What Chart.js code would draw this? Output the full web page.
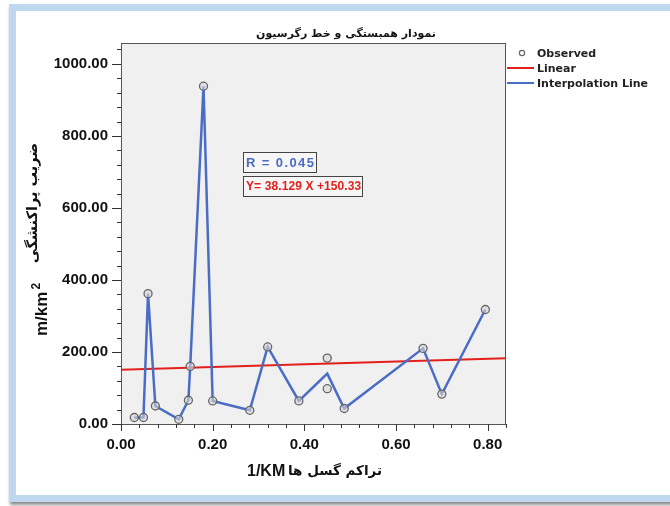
<!DOCTYPE html>
<html>
<head>
<meta charset="utf-8">
<script src="https://cdn.jsdelivr.net/npm/chart.js@4"></script>
<style>
body { margin: 0; background: #fff; width: 670px; height: 506px; overflow: hidden; position: relative; }
#frame { position: absolute; left: 9px; top: 4px; width: 700px; height: 498px; box-sizing: border-box;
  border: 7px solid #bfd8ef; border-right: none; box-shadow: 1px 3px 3px rgba(0,0,0,.45); }
#c { position: absolute; left: 0; top: 0; }
</style>
</head>
<body>
<div id="frame"></div>
<canvas id="c" width="670" height="506"></canvas>
<script>
// نقاط مشاهده شده
const obsX = [0.029, 0.049, 0.059, 0.075, 0.126, 0.147, 0.151, 0.180, 0.200, 0.281, 0.320, 0.388, 0.450, 0.450, 0.487, 0.659, 0.700, 0.795];
const obsY = [18, 18, 362, 50, 13, 66, 160, 938, 64, 38, 214, 64, 183, 98, 43, 210, 83, 318];

// خط درون یابی (در x=0.45 میانگین دو نقطه)
const lineX = [0.029, 0.049, 0.059, 0.075, 0.126, 0.147, 0.151, 0.180, 0.200, 0.281, 0.320, 0.388, 0.450, 0.487, 0.659, 0.700, 0.795];
const lineY = [18, 18, 362, 50, 13, 66, 160, 938, 64, 38, 214, 64, 140, 43, 210, 83, 318];

// خط رگرسیون خطی
const linearX = [0, 0.84];
const linearY = [150.33, 182.36];

const legendLabels = ['Observed', 'Linear', 'Interpolation Line'];
const chartTitle = 'نمودار همبستگی و خط رگرسیون';
const yTitleFa = 'ضریب پراکنشگی';
const yTitleUnit = 'm/km';
const xTitleFa = 'تراکم گسل ها';
const xTitleUnit = '1/KM';
const annotR = 'R = 0.045';
const annotEq = 'Y= 38.129 X +150.33';

const BLUE = '#4a6cc4';
const RED = '#e3201c';
const FA = '"DejaVu Sans", sans-serif';
const AR = '"Liberation Sans", Arial, sans-serif';

const toPts = (xs, ys) => xs.map((x, i) => ({x: x, y: ys[i]}));

const decor = {
    id: 'decor',
    beforeDraw(chart) {
        const {ctx, chartArea: a} = chart;
        ctx.save();
        ctx.fillStyle = '#f0f0f0';
        ctx.fillRect(a.left, a.top, a.right - a.left, a.bottom - a.top);
        ctx.restore();
    },
    afterDraw(chart) {
        const {ctx, chartArea: a, scales} = chart;
        ctx.save();
        // frame
        ctx.strokeStyle = '#555';
        ctx.lineWidth = 1;
        ctx.strokeRect(a.left + 0.5, a.top + 0.5, a.right - a.left - 1, a.bottom - a.top);

        // tick marks
        ctx.strokeStyle = '#333';
        scales.y.ticks.forEach((t, i) => {
            const py = Math.round(scales.y.getPixelForTick(i)) + 0.5;
            const len = t.label ? 9 : 4;
            ctx.beginPath(); ctx.moveTo(a.left - len, py); ctx.lineTo(a.left, py); ctx.stroke();
        });
        scales.x.ticks.forEach((t, i) => {
            const px = Math.round(scales.x.getPixelForTick(i)) + 0.5;
            const len = t.label ? 7 : 4;
            ctx.beginPath(); ctx.moveTo(px, a.bottom); ctx.lineTo(px, a.bottom + len); ctx.stroke();
        });

        // title
        ctx.fillStyle = '#111';
        ctx.textAlign = 'center';
        ctx.textBaseline = 'middle';
        ctx.font = 'bold 11px ' + FA;
        ctx.fillText(chartTitle, 346, 34);

        // y title
        ctx.save();
        ctx.translate(33, 203);
        ctx.rotate(-Math.PI / 2);
        ctx.font = 'bold 14.5px ' + FA;
        ctx.fillText(yTitleFa, 0, 0);
        ctx.restore();
        ctx.save();
        ctx.translate(47, 336);
        ctx.rotate(-Math.PI / 2);
        ctx.textAlign = 'left';
        ctx.textBaseline = 'alphabetic';
        ctx.font = 'bold 17px ' + AR;
        ctx.fillText(yTitleUnit, 0, 0);
        const w = ctx.measureText(yTitleUnit).width;
        ctx.font = 'bold 12px ' + AR;
        ctx.fillText('2', w + 2, -7);
        ctx.restore();

        // x title
        ctx.textBaseline = 'middle';
        ctx.textAlign = 'left';
        ctx.font = 'bold 16px ' + AR;
        ctx.fillText(xTitleUnit, 247, 472);
        ctx.font = 'bold 13.5px ' + FA;
        ctx.fillText(xTitleFa, 288, 471);

        // annotations
        const ax = Math.round(scales.x.getPixelForValue(0.266));
        [[annotR, BLUE, 728, 'bold 13px ' + AR, '1.4px'], [annotEq, RED, 660, 'bold 12px ' + AR, '0.1px']].forEach(([txt, col, v, font, ls]) => {
            ctx.font = font;
            ctx.letterSpacing = ls;
            const py = Math.round(scales.y.getPixelForValue(v));
            const tw = Math.round(ctx.measureText(txt).width);
            ctx.fillStyle = '#f6f6f6';
            ctx.fillRect(ax, py - 10, tw + 4, 20);
            ctx.strokeStyle = '#444';
            ctx.strokeRect(ax + 0.5, py - 10 + 0.5, tw + 4, 20);
            ctx.fillStyle = col;
            ctx.fillText(txt, ax + 3, py + 1);
        });
        ctx.letterSpacing = '0px';

        // legend
        ctx.font = 'bold 11px ' + FA;
        ctx.fillStyle = '#222';
        ctx.fillText(legendLabels[0], 537, 54);
        ctx.fillText(legendLabels[1], 537, 69);
        ctx.fillText(legendLabels[2], 537, 84);
        ctx.beginPath();
        ctx.arc(522, 53, 2.6, 0, Math.PI * 2);
        ctx.strokeStyle = '#666';
        ctx.lineWidth = 1.2;
        ctx.stroke();
        ctx.lineWidth = 2;
        ctx.strokeStyle = RED;
        ctx.beginPath(); ctx.moveTo(507, 68); ctx.lineTo(534, 68); ctx.stroke();
        ctx.strokeStyle = BLUE;
        ctx.beginPath(); ctx.moveTo(507, 83); ctx.lineTo(534, 83); ctx.stroke();
        ctx.restore();
    }
};

new Chart(document.getElementById('c'), {
    type: 'scatter',
    data: {
        datasets: [
            {
                label: legendLabels[0],
                data: toPts(obsX, obsY),
                pointRadius: 4,
                pointBorderWidth: 1.3,
                pointBorderColor: '#666',
                pointBackgroundColor: 'rgba(215,215,215,0.6)',
                order: 0
            },
            {
                label: legendLabels[2],
                data: toPts(lineX, lineY),
                showLine: true,
                pointRadius: 0,
                borderColor: BLUE,
                borderWidth: 2.5,
                order: 1
            },
            {
                label: legendLabels[1],
                data: toPts(linearX, linearY),
                showLine: true,
                pointRadius: 0,
                borderColor: RED,
                borderWidth: 2,
                order: 2
            }
        ]
    },
    options: {
        responsive: false,
        animation: false,
        layout: { padding: { left: 0, right: 164, top: 43, bottom: 0 } },
        plugins: { legend: { display: false }, tooltip: { enabled: false } },
        scales: {
            x: {
                type: 'linear',
                min: 0, max: 0.84,
                grid: { drawOnChartArea: false, drawTicks: false },
                border: { display: false },
                afterFit: s => { s.height = 82; },
                ticks: {
                    stepSize: 0.04, autoSkip: false, maxRotation: 0, includeBounds: false, padding: 12,
                    color: '#111',
                    font: { family: AR, size: 15, weight: 'bold' },
                    callback: v => Math.abs(v * 5 - Math.round(v * 5)) < 1e-6 ? v.toFixed(2) : ''
                }
            },
            y: {
                type: 'linear',
                min: 0, max: 1058,
                grid: { drawOnChartArea: false, drawTicks: false },
                border: { display: false },
                afterFit: s => { s.width = 121; },
                ticks: {
                    stepSize: 40, autoSkip: false, includeBounds: false, padding: 13,
                    color: '#111',
                    font: { family: AR, size: 15, weight: 'bold' },
                    callback: v => v % 200 === 0 ? v.toFixed(2) : ''
                }
            }
        }
    },
    plugins: [decor]
});
</script>
</body>
</html>
